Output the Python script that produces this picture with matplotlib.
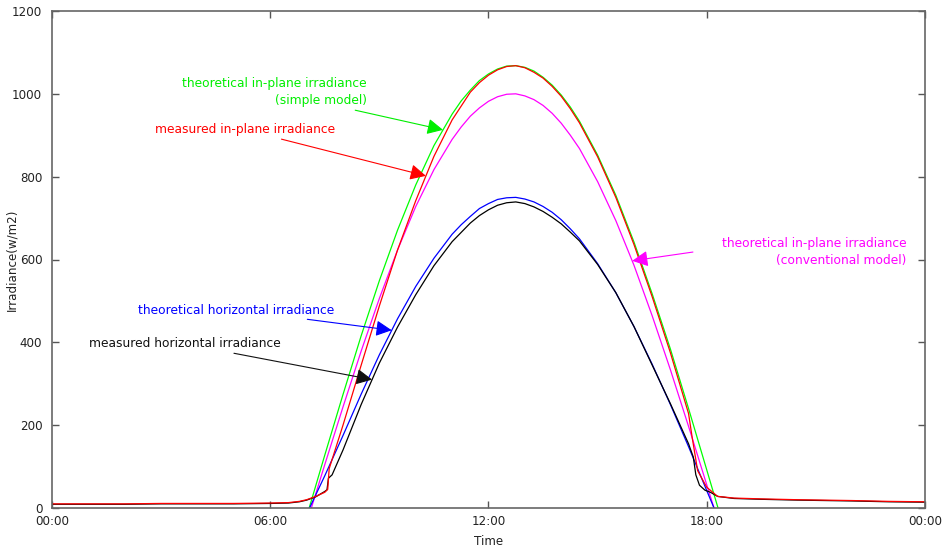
import matplotlib
matplotlib.use('Agg')
import matplotlib.pyplot as plt
import numpy as np

# --- data (hours of day, W/m2) ---
green_t = [7.07, 7.5, 8.0, 8.5, 9.0, 9.5, 10.0, 10.5, 11.0, 11.25, 11.5, 11.75, 12.0,
           12.25, 12.5, 12.75, 13.0, 13.25, 13.5, 13.75, 14.0, 14.25, 14.5, 15.0,
           15.5, 16.0, 16.5, 17.0, 17.5, 18.0, 18.31]
green_v = [0, 128, 274, 416, 549, 671, 780, 875, 951, 983, 1009, 1032, 1048,
           1060, 1067, 1068, 1064, 1055, 1040, 1021, 997, 968, 934, 852,
           755, 642, 517, 384, 240, 92, 0]

magenta_t = [7.13, 7.5, 8.0, 8.5, 9.0, 9.5, 10.0, 10.5, 11.0, 11.25, 11.5, 11.75, 12.0,
             12.25, 12.5, 12.75, 13.0, 13.25, 13.5, 13.75, 14.0, 14.25, 14.5, 15.0,
             15.5, 16.0, 16.5, 17.0, 17.5, 18.0, 18.2]
magenta_v = [0, 105, 244, 379, 506, 623, 728, 817, 890, 920, 946, 966, 982,
             993, 999, 1000, 995, 986, 972, 953, 929, 900, 868, 788,
             694, 586, 464, 334, 197, 56, 0]

blue_t = [7.08, 7.5, 8.0, 8.5, 9.0, 9.5, 10.0, 10.5, 11.0, 11.25, 11.5, 11.75, 12.0,
          12.25, 12.5, 12.75, 13.0, 13.25, 13.5, 13.75, 14.0, 14.25, 14.5, 15.0,
          15.5, 16.0, 16.5, 17.0, 17.5, 18.0, 18.2]
blue_v = [0, 78, 175, 275, 370, 457, 535, 603, 661, 684, 704, 723, 735,
          745, 749, 750, 746, 739, 728, 714, 696, 674, 650, 590,
          520, 438, 347, 250, 148, 42, 0]

red_t = [0, 1, 2, 3, 4, 5, 6, 6.5, 6.8, 7.0, 7.25, 7.5, 7.58, 7.62, 8.0, 8.5, 9.0,
         9.5, 10.0, 10.5, 11.0, 11.5, 11.75, 12.0, 12.25, 12.5, 12.75, 13.0, 13.25,
         13.5, 13.75, 14.0, 14.25, 14.5, 15.0, 15.5, 16.0, 16.5, 17.0, 17.5, 17.6,
         17.75, 18.0, 18.3, 18.75, 19.5, 20.5, 22.0, 23.0, 24.0]
red_v = [10, 10, 10, 11, 11, 11, 12, 13, 16, 20, 28, 38, 45, 95, 200, 345, 488,
         623, 742, 849, 937, 1004, 1027, 1045, 1058, 1066, 1068, 1063, 1052,
         1038, 1018, 994, 964, 930, 848, 750, 636, 510, 375, 228, 170,
         90, 50, 28, 24, 22, 20, 18, 16, 15]

black_t = [0, 1, 2, 3, 4, 5, 6, 6.5, 6.8, 7.0, 7.25, 7.5, 7.56, 7.6, 7.7, 8.0, 8.5,
           9.0, 9.5, 10.0, 10.5, 11.0, 11.5, 11.75, 12.0, 12.25, 12.5, 12.75, 13.0,
           13.25, 13.5, 13.75, 14.0, 14.25, 14.5, 15.0, 15.5, 16.0, 16.5, 17.0, 17.5,
           17.63, 17.7, 17.8, 17.95, 18.1, 18.3, 18.75, 19.5, 20.5, 22.0, 23.0, 24.0]
black_v = [9, 9, 9, 10, 10, 10, 11, 12, 15, 19, 27, 40, 44, 72, 80, 140, 250,
           350, 437, 515, 585, 643, 688, 706, 720, 731, 737, 739, 735,
           727, 716, 702, 686, 666, 645, 588, 520, 438, 345, 252, 155,
           123, 80, 55, 43, 38, 28, 23, 21, 19, 17, 15, 14]

xticks = [0, 6, 12, 18, 24]
xticklabels = ['00:00', '06:00', '12:00', '18:00', '00:00']
yticks = [0, 200, 400, 600, 800, 1000, 1200]

# --- figure ---
fig = plt.figure(figsize=(9.45, 5.5), dpi=100)
ax = fig.add_axes([52/945, 42/550, 873/945, 497/550])

ax.plot(green_t, green_v, color='#00ff00', lw=0.9)
ax.plot(magenta_t, magenta_v, color='#ff00ff', lw=0.9)
ax.plot(blue_t, blue_v, color='#0000ff', lw=0.9)
ax.plot(black_t, black_v, color='black', lw=0.9)
ax.plot(red_t, red_v, color='#ff0000', lw=0.9)

ax.set_xlim(0, 24)
ax.set_ylim(0, 1200)
ax.set_xticks(xticks)
ax.set_xticklabels(xticklabels)
ax.set_yticks(yticks)
ax.tick_params(direction='in', length=5, width=1, colors='#555555', labelcolor='#222222',
               labelsize=8.6, top=True, right=True)
ax.tick_params(axis='y', pad=7)
ax.tick_params(axis='x', pad=5)
for s in ax.spines.values():
    s.set_color('#666666')
    s.set_linewidth(1.2)

ax.set_xlabel('Time', fontsize=8.6, color='#222222')
ax.set_ylabel('Irradiance(w/m2)', fontsize=8.6, color='#222222')
ax.xaxis.set_label_coords(0.5, -0.054)
ax.yaxis.set_label_coords(-0.039, 0.5)


# arrow annotations, tip sits on the curve it points at
def label(txt, t_tip, ts, vs, tail, color):
    tip = (t_tip, np.interp(t_tip, ts, vs))
    ax.annotate(txt, xy=tip, xytext=tail, ha='right', va='center',
                multialignment='right', fontsize=8.8, color=color, linespacing=1.45,
                arrowprops=dict(arrowstyle='-|>,head_length=0.6,head_width=0.3',
                                mutation_scale=16, color=color, lw=0.8,
                                shrinkA=0, shrinkB=0))


label('theoretical in-plane irradiance\n(simple model)', 10.75, green_t, green_v,
      (8.66, 1004), '#00ee00')
label('measured in-plane irradiance', 10.28, red_t, red_v, (7.78, 913), '#ff0000')
label('theoretical horizontal irradiance', 9.34, blue_t, blue_v, (7.75, 478), '#0000ff')
label('measured horizontal irradiance', 8.8, black_t, black_v, (6.30, 396), '#111111')

# the magenta one has its text off to the right of the arrow tail
label('', 15.95, magenta_t, magenta_v, (17.62, 618), '#ff00ff')
ax.text(23.5, 618, 'theoretical in-plane irradiance\n(conventional model)',
        ha='right', va='center', multialignment='right', fontsize=8.8, color='#ff00ff',
        linespacing=1.45)

fig.savefig('out.png', dpi=100)
